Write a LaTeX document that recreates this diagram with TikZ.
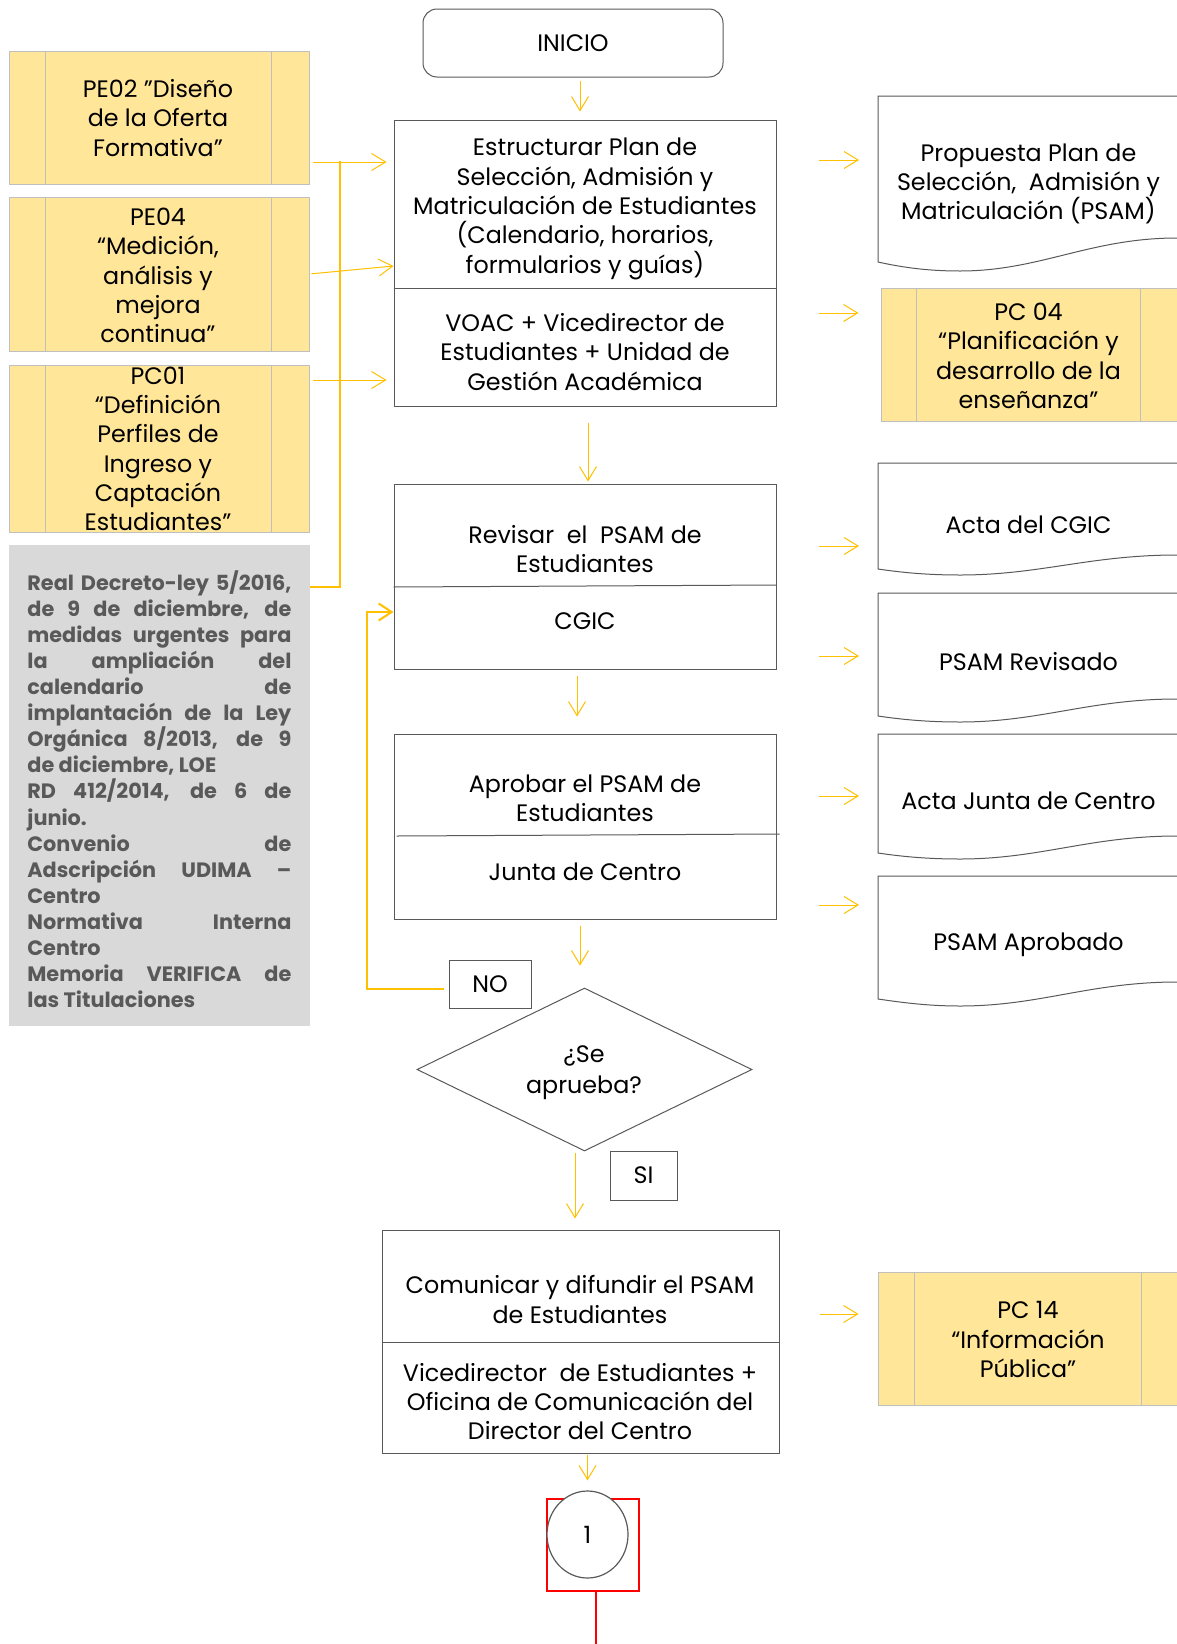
\documentclass[tikz,border=0pt]{standalone}
\usepackage{fontspec}
\setmainfont{Poppins}
\usetikzlibrary{arrows.meta,shapes.geometric}
\definecolor{arrc}{HTML}{FFC000}
\definecolor{lnc}{HTML}{595959}
\definecolor{yfill}{HTML}{FFE699}
\definecolor{ylin}{HTML}{BFBFBF}
\definecolor{gfill}{HTML}{D9D9D9}
\definecolor{gtxt}{HTML}{595959}
\newcommand\mainsz{\fontsize{11.9}{14.65}\selectfont}
\newcommand\graysz{\fontsize{10.4}{13.05}\selectfont}
\newcommand\jline[1]{\makebox[132pt][s]{#1}}
\begin{document}
\begin{tikzpicture}[x=0.5pt,y=-0.5pt,
 proc/.style={draw=lnc,line width=0.5pt,inner sep=0,minimum width=191pt},
 txt/.style={align=center,font=\mainsz,inner sep=0},
 ybox/.style={fill=yfill,draw=ylin,line width=0.5pt,inner sep=0,minimum width=150pt},
 yline/.style={draw=ylin,line width=0.5pt},
 arr/.style={draw=arrc,line width=0.5pt,-{Straight Barb[length=7pt,width=8.5pt]}},
 brk/.style={draw=arrc,line width=1pt},
 docp/.style={draw=lnc,line width=0.5pt},
 lbl/.style={draw=lnc,line width=0.5pt,inner sep=0,font=\mainsz}]

\fill[white] (0,0) rectangle (1177,1644);
\useasboundingbox (0,0) rectangle (1177,1644);

% ---------- left column ----------
\node[ybox,minimum height=66.5pt] (pe02) at (159,117.5) {};
\draw[yline] ([xshift=18.5pt]pe02.north west) -- ([xshift=18.5pt]pe02.south west)
             ([xshift=-19pt]pe02.north east) -- ([xshift=-19pt]pe02.south east);
\node[txt] (pe02t) at (158,118) {PE02 "Diseño\\de la Oferta\\Formativa”};

\node[ybox,minimum height=77pt] (pe04) at (159,274) {};
\draw[yline] ([xshift=18.5pt]pe04.north west) -- ([xshift=18.5pt]pe04.south west)
             ([xshift=-19pt]pe04.north east) -- ([xshift=-19pt]pe04.south east);
\node[txt] (pe04t) at (158,275.5) {PE04\\“Medición,\\análisis y\\mejora\\continua”};

\node[ybox,minimum height=83.5pt] (pc01) at (159,448.5) {};
\draw[yline] ([xshift=18.5pt]pc01.north west) -- ([xshift=18.5pt]pc01.south west)
             ([xshift=-19pt]pc01.north east) -- ([xshift=-19pt]pc01.south east);
\node[txt] (pc01t) at (158,449) {PC01\\“Definición\\Perfiles de\\Ingreso y\\Captación\\Estudiantes”};

\node[fill=gfill,inner sep=0,minimum width=150.5pt,minimum height=240.5pt] (gr) at (159.5,785.5) {};
\node[anchor=north west,inner sep=0,align=left,text=gtxt,font=\graysz\bfseries] (grt) at (27,570) {%
\jline{Real Decreto-ley 5/2016,}\\
\jline{de 9 de diciembre, de}\\
\jline{medidas urgentes para}\\
\jline{la ampliación del}\\
\jline{calendario de}\\
\jline{implantación de la Ley}\\
\jline{Orgánica 8/2013, de 9}\\
de diciembre, LOE\\
\jline{RD 412/2014, de 6 de}\\
junio.\\
\jline{Convenio de}\\
\jline{Adscripción UDIMA –}\\
Centro\\
\jline{Normativa Interna}\\
Centro\\
\jline{Memoria VERIFICA de}\\
las Titulaciones};

% ---------- centre column ----------
\node[draw=lnc,line width=0.5pt,rounded corners=7pt,minimum width=150pt,minimum height=34pt,inner sep=0,font=\mainsz] (ini) at (573,43) {INICIO};

\node[proc,minimum height=143pt] (b1) at (585,263) {};
\draw[docp] (b1.west |- 0,288) -- (b1.east |- 0,288);
\node[txt] (b1a) at (585,209) {Estructurar Plan de\\Selección, Admisión y\\Matriculación de Estudiantes\\(Calendario, horarios,\\formularios y guías)};
\node[txt] (b1b) at (585,352) {VOAC + Vicedirector de\\Estudiantes + Unidad de\\Gestión Académica};

\node[proc,minimum height=92.5pt] (b2) at (585,576.5) {};
\draw[docp] (b2.west |- 0,587) -- (b2.east |- 0,585);
\node[txt] (b2a) at (585,549) {Revisar\ \ el\ \ PSAM de\\Estudiantes};
\node[txt] (b2b) at (585,621) {CGIC};

\node[proc,minimum height=92.5pt] (b3) at (585,826.5) {};
\draw[docp] ([xshift=1.5pt]b3.west |- 0,836) -- ([xshift=1.5pt]b3.east |- 0,834);
\node[txt] (b3a) at (585,798.5) {Aprobar el PSAM de\\Estudiantes};
\node[txt] (b3b) at (585,872) {Junta de Centro};

\node[lbl,minimum width=41pt,minimum height=24pt] (no) at (490,984) {NO};
\node[diamond,draw=lnc,line width=0.5pt,minimum width=167.5pt,minimum height=81.5pt,inner sep=0] (dia) at (584.5,1069.5) {};
\node[txt,font=\fontsize{11.9}{15.6}\selectfont] (diat) at (584,1073) {¿Se\\aprueba?};
\node[lbl,minimum width=33.5pt,minimum height=24.5pt] (si) at (643.5,1175.5) {SI};

\node[proc,minimum width=198.5pt,minimum height=111.5pt] (b4) at (580.5,1341.5) {};
\draw[docp] (b4.west |- 0,1342) -- (b4.east |- 0,1342);
\node[txt] (b4a) at (580,1299.5) {Comunicar y difundir el PSAM\\de Estudiantes};
\node[txt] (b4b) at (580,1401.5) {Vicedirector\ \ de Estudiantes +\\Oficina de Comunicación del\\Director del Centro};

\node[draw=red,line width=1pt,minimum width=46pt,minimum height=46pt,inner sep=0] (rr) at (593,1545) {};
\draw[red,line width=1pt] ([xshift=1.5pt]rr.south) -- ([xshift=1.5pt]rr.south |- 0,1650);
\node[ellipse,draw=lnc,fill=white,line width=0.6pt,minimum width=40.5pt,minimum height=43.5pt,inner sep=0,font=\mainsz] (c1) at (587.5,1534.5) {1};

% ---------- right column ----------
\draw[docp] (1177,96) -- (878,96) -- (878,262) .. controls (905,268) and (930,271) .. (960,271) .. controls (1040,271) and (1090,238) .. (1177,238);
\coordinate (d1) at (878,180);
\node[txt] (d1t) at (1028.5,184) {Propuesta Plan de\\Selección,\ \ Admisión y\\Matriculación (PSAM)};

\node[ybox,minimum width=148pt,minimum height=66.5pt] (pc04) at (1029,354.5) {};
\draw[yline] ([xshift=18pt]pc04.north west) -- ([xshift=18pt]pc04.south west)
             ([xshift=-18.5pt]pc04.north east) -- ([xshift=-18.5pt]pc04.south east);
\node[txt] (pc04t) at (1028.5,356) {PC 04\\“Planificación y\\desarrollo de la\\enseñanza”};

\draw[docp] (1177,463) -- (878,463) -- (878,569) .. controls (905,573) and (930,575) .. (960,575) .. controls (1040,575) and (1090,555) .. (1177,555);
\coordinate (d2) at (878,520);
\node[txt] (d2t) at (1028.5,525) {Acta del CGIC};

\draw[docp] (1177,593) -- (878,593) -- (878,716) .. controls (905,720) and (930,722) .. (960,722) .. controls (1040,722) and (1090,699) .. (1177,699);
\coordinate (d3) at (878,650);
\node[txt] (d3t) at (1028.5,662) {PSAM Revisado};

\draw[docp] (1177,734) -- (878,734) -- (878,853) .. controls (905,857) and (930,859) .. (960,859) .. controls (1040,859) and (1090,836) .. (1177,836);
\coordinate (d4) at (878,790);
\node[txt] (d4t) at (1028.5,801) {Acta Junta de Centro};

\draw[docp] (1177,876) -- (878,876) -- (878,999) .. controls (905,1003) and (930,1006) .. (960,1006) .. controls (1040,1006) and (1090,982) .. (1177,982);
\coordinate (d5) at (878,930);
\node[txt] (d5t) at (1028.5,945) {PSAM Aprobado};

\node[ybox,minimum width=149.5pt,minimum height=66.5pt] (pc14) at (1027.5,1338.5) {};
\draw[yline] ([xshift=18.5pt]pc14.north west) -- ([xshift=18.5pt]pc14.south west)
             ([xshift=-18pt]pc14.north east) -- ([xshift=-18pt]pc14.south east);
\node[txt] (pc14t) at (1028,1339.5) {PC 14\\“Información\\Pública”};

% ---------- connectors ----------
\coordinate (bk) at (340,161);
\draw[brk] (gr.east |- 0,587) -| (bk);
\draw[arr,shorten <=1.5pt,shorten >=3.5pt] (pe02.east |- 0,162) -- (b1.west |- 0,162);
\draw[arr,shorten <=1pt] (pe04.east |- 0,274) -- (b1.west |- 0,266);
\draw[arr,shorten <=1.5pt,shorten >=3.5pt] (pc01.east |- 0,380) -- (b1.west |- 0,380);

\draw[arr,shorten <=1.5pt,shorten >=4pt] ([xshift=3.5pt]ini.south) -- ([xshift=3.5pt]ini.south |- b1.north);
\draw[arr,shorten <=8pt,shorten >=1pt] ([xshift=1.5pt]b1.south) -- ([xshift=1.5pt]b1.south |- b2.north);
\draw[arr,shorten <=3pt,shorten >=8.5pt] ([xshift=-4pt]b2.south) -- ([xshift=-4pt]b2.south |- b3.north);
\draw[arr,shorten <=3pt,shorten >=11pt] ([xshift=-2.5pt]b3.south) -- ([xshift=-2.5pt]b3.south |- dia.north);
\draw[arr,shorten <=0.5pt,shorten >=5.5pt] ([xshift=-4.75pt]dia.south) -- ([xshift=-4.75pt]dia.south |- b4.north);
\draw[arr,shorten <=0.5pt,shorten >=5pt] (b4.south -| c1.north) -- (c1.north);

\coordinate (nx) at (367,800);
\draw[brk,-{Straight Barb[length=6.5pt,width=8.5pt]},shorten <=2.5pt] (no.west |- 0,989) -| (nx) |- (b2.west |- 0,612);

\draw[arr,shorten <=21pt,shorten >=9.5pt] (b1.east |- 0,160) -- (d1 |- 0,160);
\draw[arr,shorten <=21pt,shorten >=11pt] (b1.east |- 0,313) -- (pc04.west |- 0,313);
\draw[arr,shorten <=21pt,shorten >=9.5pt] (b2.east |- 0,546) -- (d2 |- 0,546);
\draw[arr,shorten <=21pt,shorten >=9.5pt] (b2.east |- 0,656) -- (d3 |- 0,656);
\draw[arr,shorten <=21pt,shorten >=9.5pt] (b3.east |- 0,796) -- (d4 |- 0,796);
\draw[arr,shorten <=21pt,shorten >=9.5pt] (b3.east |- 0,905) -- (d5 |- 0,905);
\draw[arr,shorten <=20pt,shorten >=9.5pt] (b4.east |- 0,1314) -- (pc14.west |- 0,1314);
\end{tikzpicture}
\end{document}
